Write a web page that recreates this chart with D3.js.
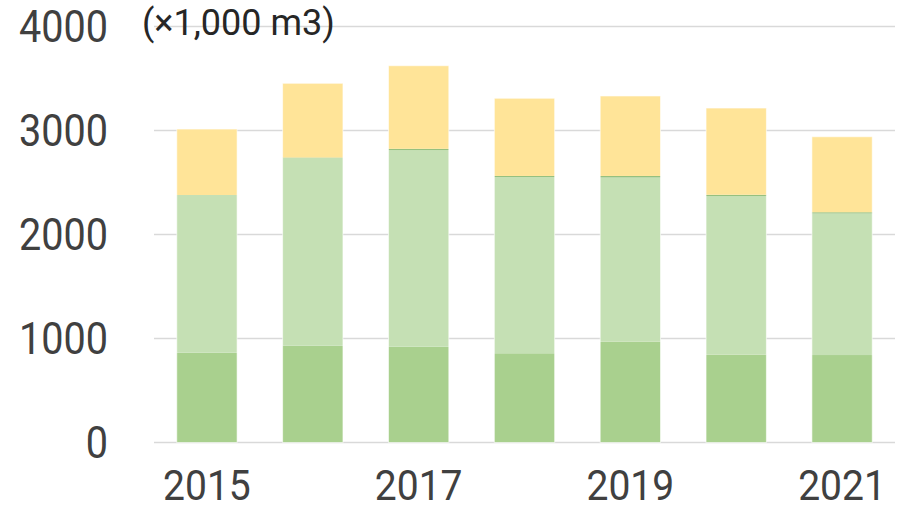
<!DOCTYPE html>
<html><head><meta charset="utf-8">
<script src="https://cdn.jsdelivr.net/npm/d3@7"></script>
<style>html,body{margin:0;padding:0;background:#fff;}svg{display:block;}</style>
</head><body>
<svg id="chart" width="899" height="510"></svg>
<script>
const years = ["2015","2016","2017","2018","2019","2020","2021"];
const seriesBottom = [863, 931, 921, 858, 969, 844, 841];
const seriesMiddle = [1517, 1805, 1891, 1695, 1579, 1526, 1361];
const seriesThin = [0, 4, 12, 10, 15, 12, 12];
const seriesTop = [634, 714, 799, 747, 769, 834, 726];
const yTicks = [0, 1000, 2000, 3000, 4000];
const xTickLabels = ["2015","2017","2019","2021"];
const unitLabel = "(×1,000 m3)";
const seriesKeys = ["bottom","middle","thin","top"];
const colors = {bottom:"#a9d08e", middle:"#c5e0b4", thin:"#96c07e", top:"#ffe498"};

const rows = years.map((y,i)=>({year:y, bottom:seriesBottom[i], middle:seriesMiddle[i], thin:seriesThin[i], top:seriesTop[i]}));
const stacked = d3.stack().keys(seriesKeys)(rows);

const svg = d3.select("#chart");
const x = d3.scaleBand().domain(years).range([154, 895]).paddingInner(0.43).paddingOuter(0.215);
const y = d3.scaleLinear().domain([0, 4000]).range([442.5, 26.5]);
const FONT = "Roboto, 'Open Sans', sans-serif";

// gridlines
svg.append("g").selectAll("line").data(yTicks).join("line")
  .attr("x1", 154).attr("x2", 895)
  .attr("y1", d=>y(d)).attr("y2", d=>y(d))
  .attr("stroke", "#d9d9d9").attr("stroke-width", 1.5);

// bars
svg.append("g").selectAll("g").data(stacked).join("g")
  .attr("fill", d=>colors[d.key])
  .selectAll("rect").data(d=>d).join("rect")
  .attr("x", d=>x(d.data.year))
  .attr("width", x.bandwidth())
  .attr("y", d=>y(d[1]))
  .attr("height", d=>Math.max(0, y(d[0]) - y(d[1])));

// bar outline (white edge)
svg.append("g").selectAll("rect").data(rows).join("rect")
  .attr("x", d=>x(d.year)).attr("width", x.bandwidth())
  .attr("y", d=>y(d.bottom+d.middle+d.thin+d.top))
  .attr("height", d=>y(0)-y(d.bottom+d.middle+d.thin+d.top))
  .attr("fill","none").attr("stroke","#ffffff").attr("stroke-opacity",0.6).attr("stroke-width",1);

// y axis labels
svg.append("g").selectAll("text").data(yTicks).join("text")
  .attr("transform", d=>`translate(108,${y(d)}) scale(0.9,1)`)
  .attr("text-anchor","end").attr("dy","0.36em")
  .attr("font-family", FONT)
  .attr("font-size", 44).attr("fill", "#404040")
  .text(d=>d);

// x axis labels
svg.append("g").selectAll("text").data(xTickLabels).join("text")
  .attr("transform", d=>`translate(${x(d)+x.bandwidth()/2},499.5) scale(0.93,1)`)
  .attr("text-anchor","middle")
  .attr("font-family", FONT)
  .attr("font-size", 42).attr("fill", "#404040")
  .text(d=>d);

// unit label
svg.append("text")
  .attr("x", 142).attr("y", 34.5)
  .attr("font-family", FONT)
  .attr("font-size", 36).attr("fill", "#262626")
  .text(unitLabel);
</script>
</body></html>
